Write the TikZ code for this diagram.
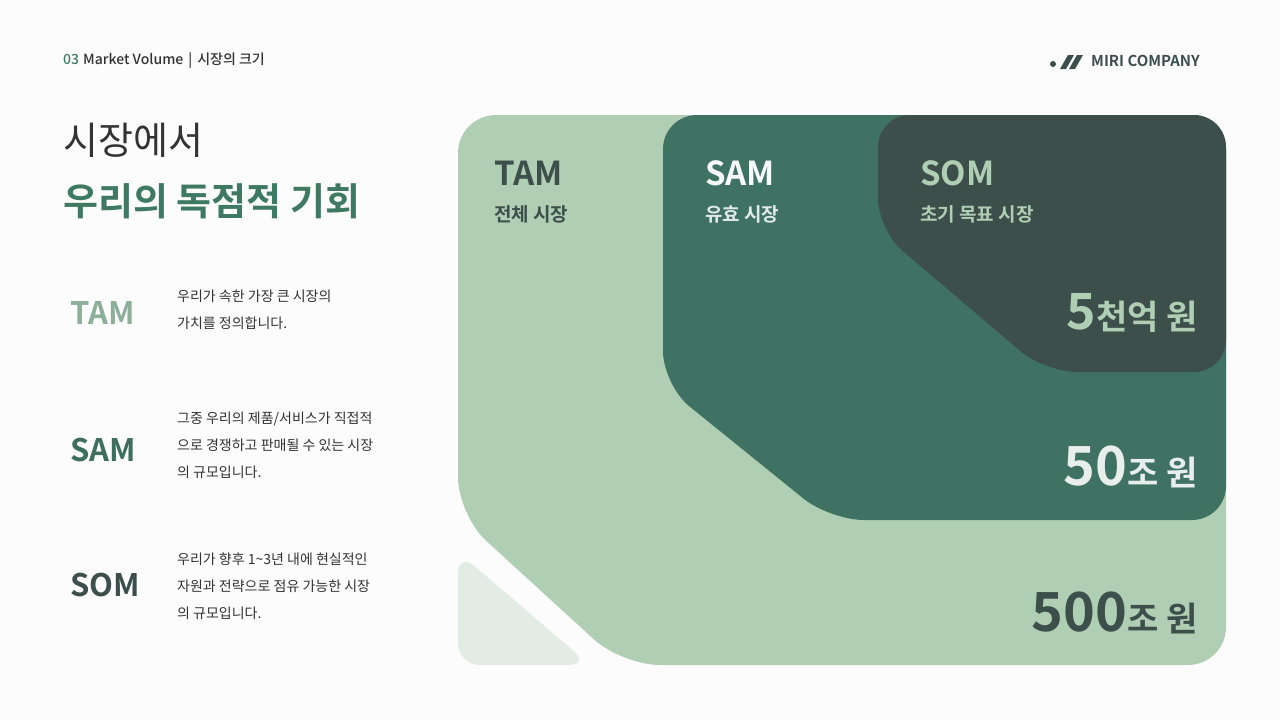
\documentclass[tikz,border=0pt]{standalone}
\usepackage{fontspec}
\setmainfont{Noto Sans CJK KR}
\newfontfamily\kb{Noto Sans CJK KR Bold}
\newfontfamily\km{Noto Sans CJK KR Medium}
\definecolor{bg}{HTML}{FCFCFC}
\definecolor{tam}{HTML}{AFCEB4}
\definecolor{sam}{HTML}{3F7263}
\definecolor{som}{HTML}{3D4F4A}
\definecolor{tri}{HTML}{E2EBE4}
\definecolor{dark}{HTML}{333333}
\definecolor{grn}{HTML}{3E7A63}
\definecolor{tamt}{HTML}{8DAE98}
\definecolor{samt}{HTML}{3E6E5E}
\definecolor{somt}{HTML}{3D4F4A}
\begin{document}
\begin{tikzpicture}[x=1pt,y=-1pt,
  desc/.style={anchor=north west,align=left,font=\fontsize{14}{27}\selectfont,text=dark,inner sep=0},
  big/.style={anchor=west,font=\kb\fontsize{31}{31}\selectfont,inner sep=0},
  lab/.style={anchor=west,font=\kb\fontsize{33}{33}\selectfont,inner sep=0},
  sub/.style={anchor=west,font=\kb\fontsize{19}{19}\selectfont,inner sep=0},
  val/.style={anchor=east,inner sep=0}]
\fill[bg] (0,0) rectangle (1280,720);
\useasboundingbox (0,0) rectangle (1280,720);
% header
\node[anchor=west,inner sep=0,font=\km\fontsize{14}{14}\selectfont] (hdr) at (63,61) {\textcolor{grn}{03}\hspace{4pt}\textcolor{dark}{Market Volume\hspace{5pt}|\hspace{5pt}시장의 크기}};
\fill[som] (1053,64) circle (3);
\fill[som] (1060,69) -- (1068,55) -- (1074,55) -- (1066,69) -- cycle;
\fill[som] (1069,69) -- (1077,55) -- (1083,55) -- (1075,69) -- cycle;
\node[anchor=west,inner sep=0,font=\kb\fontsize{15}{15}\selectfont,text=som] (logo) at (1091,61) {MIRI COMPANY};
% title
\node[anchor=west,inner sep=0,font=\fontsize{38}{38}\selectfont,text=dark] (t1) at (63,140) {시장에서};
\node[anchor=west,inner sep=0,font=\kb\fontsize{38}{38}\selectfont,text=grn] (t2) at (63,201) {우리의 독점적 기회};
% left list
\node[big,text=tamt] (ltam) at (70,313) {TAM};
\node[big,text=samt] (lsam) at (70,450) {SAM};
\node[big,text=somt] (lsom) at (70,585) {SOM};
\node[desc] (d1) at (177,290) {우리가 속한 가장 큰 시장의\\가치를 정의합니다.};
\node[desc] (d2) at (177,412) {그중 우리의 제품/서비스가 직접적\\으로 경쟁하고 판매될 수 있는 시장\\의 규모입니다.};
\node[desc] (d3) at (177,553) {우리가 향후 1\textasciitilde3년 내에 현실적인\\자원과 전략으로 점유 가능한 시장\\의 규모입니다.};
% shapes
\fill[tam,rounded corners=38] (458,515) -- (458,115) -- (1226,115) -- (1226,665) -- (622,665) -- cycle;
\fill[tri,rounded corners=22] (458,665) -- (458,552) -- (590,665) -- cycle;
\fill[sam,rounded corners=34] (663,385) -- (663,115) -- (1226,115) -- (1226,520) -- (830,520) -- cycle;
\fill[som,rounded corners=32] (878,230) -- (878,115) -- (1226,115) -- (1226,372) -- (1045,372) -- cycle;
% shape labels
\node[lab,text=som] (tamh) at (494,173) {TAM};
\node[sub,text=som] (tams) at (494,214) {전체 시장};
\node[lab,text=white!90!tam] (samh) at (705,173) {SAM};
\node[sub,text=white!85!sam] (sams) at (705,214) {유효 시장};
\node[lab,text=tam] (somh) at (920,173) {SOM};
\node[sub,text=tam] (soms) at (920,214) {초기 목표 시장};
\node[val,text=tam] (v1) at (1198,313) {\kb\fontsize{50}{50}\selectfont 5\fontsize{34}{34}\selectfont 천억 원};
\node[val,text=white!88!sam] (v2) at (1198,467) {\kb\fontsize{54}{54}\selectfont 50\fontsize{34}{34}\selectfont 조 원};
\node[val,text=som] (v3) at (1198,613) {\kb\fontsize{54}{54}\selectfont 500\fontsize{34}{34}\selectfont 조 원};
\end{tikzpicture}
\end{document}
